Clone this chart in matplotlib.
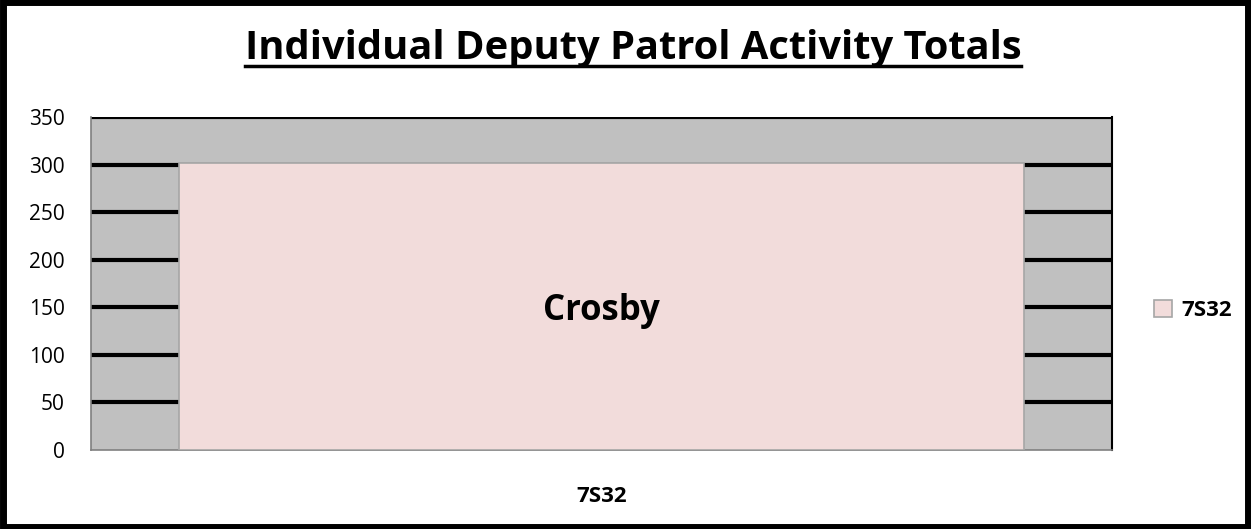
from matplotlib import pyplot as plt
from matplotlib.lines import Line2D
from matplotlib.patches import Rectangle

deputies=['7S32']
totals=[302]
bar_labels=['Crosby']
y_ticks=[0,50,100,150,200,250,300,350]

plt.rcParams['font.family']=['Open Sans','DejaVu Sans']

fig=plt.figure(figsize=(12.51,5.29),dpi=100)
ax=fig.add_axes([91/1251,1-450/529,1021/1251,333/529])

ax.set_facecolor('#C0C0C0')
ax.bar(range(len(deputies)),totals,width=0.827,color='#F2DCDB',
       edgecolor='#A6A6A6',linewidth=1.2,zorder=3,label=deputies[0])
for i,(v,name) in enumerate(zip(totals,bar_labels)):
    ax.text(i,v/2,name,ha='center',va='center_baseline',fontsize=25,
            fontweight='bold',zorder=4)

ax.set_xlim(-0.5,len(deputies)-0.5)
ax.set_ylim(0,350)
ax.set_yticks(y_ticks)
ax.set_yticklabels([str(t) for t in y_ticks],fontsize=15)
ax.set_xticks(range(len(deputies)))
ax.set_xticklabels(deputies,fontsize=16,fontweight='bold')
ax.tick_params(axis='y',length=0,pad=19)
ax.tick_params(axis='x',length=0,pad=26)
ax.grid(axis='y',color='black',linewidth=3,zorder=1)
ax.set_axisbelow(True)
#   no gridline on the baseline
ax.yaxis.get_gridlines()[0].set_visible(False)
for s in ['left','bottom']:
    ax.spines[s].set_color('#808080')
    ax.spines[s].set_linewidth(1.2)
ax.spines['top'].set_visible(False)
ax.spines['right'].set_color('black')
ax.spines['right'].set_linewidth(1.5)

leg=ax.legend(loc='center left',bbox_to_anchor=(1.022,0.42),frameon=False,
              prop={'weight':'bold','size':16},handlelength=0.8,
              handleheight=0.8,handletextpad=0.4)

#   Title with underline
title=fig.text(633/1251,1-49/529,'Individual Deputy Patrol Activity Totals',
               ha='center',va='center',fontsize=28.7,fontweight='bold')
fig.canvas.draw()
bb=title.get_window_extent().transformed(fig.transFigure.inverted())
fig.add_artist(Line2D([bb.x0,bb.x1],[bb.y0+0.004,bb.y0+0.004],
                      color='black',linewidth=2.5,transform=fig.transFigure))

#   Outer border
fig.add_artist(Rectangle((0.002,0.004),0.996,0.992,fill=False,
                         edgecolor='black',linewidth=5,
                         transform=fig.transFigure))

fig.savefig('out.png',dpi=100)
